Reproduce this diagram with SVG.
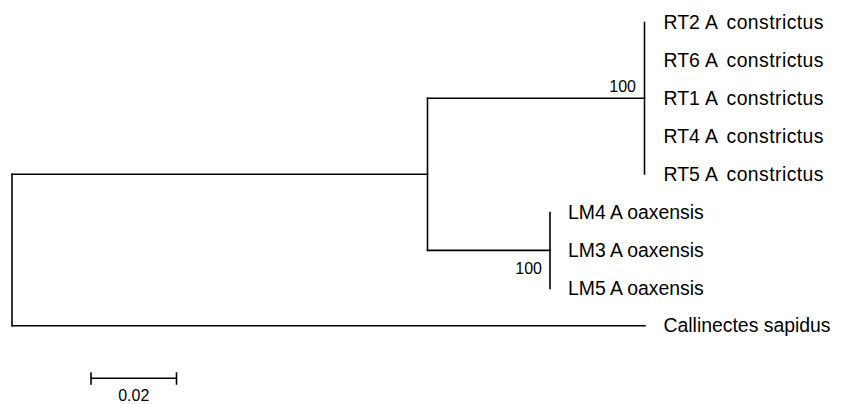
<svg xmlns="http://www.w3.org/2000/svg" width="842" height="404" viewBox="0 0 842 404">
<style>
.br{stroke:#000;stroke-width:1.6;fill:none;stroke-linecap:square}
.lbl{font-family:"Liberation Sans",Arial,sans-serif;font-size:19.4px;fill:#000}
.bs{font-family:"Liberation Sans",Arial,sans-serif;font-size:16px;fill:#000}
</style>
<rect width="842" height="404" fill="#fff"/>
<g id="connectors">
<path class="br" d="M12,174.3 V325.7"/>
<path class="br" d="M12,174.3 H427.5"/>
<path class="br" d="M12,325.7 H645"/>
<path class="br" d="M427.5,98.3 V250.4"/>
<path class="br" d="M427.5,98.3 H644.5"/>
<path class="br" d="M427.5,250.4 H550"/>
<path class="br" d="M644.5,22.5 V174"/>
<path class="br" d="M550,212.5 V288.5"/>
</g>
<g id="RT2"><text class="lbl" y="29"><tspan x="663.5">RT2</tspan><tspan x="705">A</tspan><tspan x="726.5" textLength="97" lengthAdjust="spacing">constrictus</tspan></text></g>
<g id="RT6"><text class="lbl" y="66.8"><tspan x="663.5">RT6</tspan><tspan x="705">A</tspan><tspan x="726.5" textLength="97" lengthAdjust="spacing">constrictus</tspan></text></g>
<g id="RT1"><text class="lbl" y="104.7"><tspan x="663.5">RT1</tspan><tspan x="705">A</tspan><tspan x="726.5" textLength="97" lengthAdjust="spacing">constrictus</tspan></text></g>
<g id="RT4"><text class="lbl" y="142.6"><tspan x="663.5">RT4</tspan><tspan x="705">A</tspan><tspan x="726.5" textLength="97" lengthAdjust="spacing">constrictus</tspan></text></g>
<g id="RT5"><text class="lbl" y="180.5"><tspan x="663.5">RT5</tspan><tspan x="705">A</tspan><tspan x="726.5" textLength="97" lengthAdjust="spacing">constrictus</tspan></text></g>
<g id="LM4"><text class="lbl" x="568" y="218.9">LM4 A oaxensis</text></g>
<g id="LM3"><text class="lbl" x="568" y="256.8">LM3 A oaxensis</text></g>
<g id="LM5"><text class="lbl" x="568" y="294.7">LM5 A oaxensis</text></g>
<g id="Callinectes"><text class="lbl" x="663.5" y="332.2">Callinectes sapidus</text></g>
<g id="bootstrap-RT"><text class="bs" x="636" y="92" text-anchor="end">100</text></g>
<g id="bootstrap-LM"><text class="bs" x="542" y="273.5" text-anchor="end">100</text></g>
<g id="scalebar">
<path class="br" d="M91,378.3 H176.5 M91,373 V384 M176.5,373 V384"/>
<text class="bs" x="133.8" y="401" text-anchor="middle">0.02</text>
</g>
</svg>
